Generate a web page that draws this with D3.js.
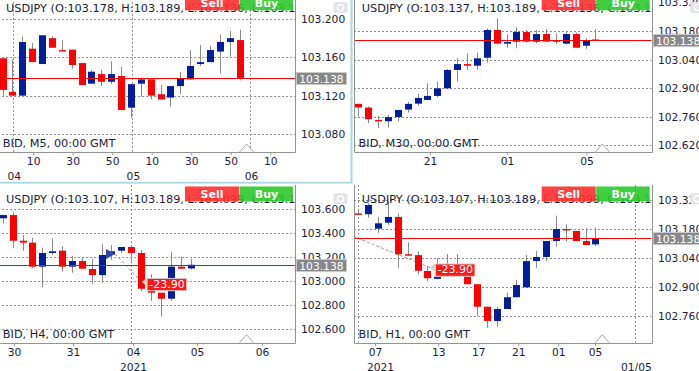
<!DOCTYPE html>
<html>
<head>
<meta charset="utf-8">
<script src="https://cdn.jsdelivr.net/npm/d3@7"></script>
<style>
  body { margin: 0; background: #fff; overflow: hidden; }
  svg { display: block; font-family: "DejaVu Sans", Verdana, sans-serif; }
</style>
</head>
<body>
<svg id="chart" width="699" height="371"></svg>
<script>
// --- DATA ---

// Candles as [open, high, low, close]
const m5Candles = [
  [103.159, 103.159, 103.120, 103.126], [103.124, 103.158, 103.120, 103.120],
  [103.120, 103.1815, 103.120, 103.176], [103.169, 103.175, 103.155, 103.155],
  [103.153, 103.183, 103.153, 103.183], [103.180, 103.182, 103.170, 103.170],
  [103.1675, 103.178, 103.1665, 103.1665], [103.168, 103.168, 103.148, 103.152],
  [103.154, 103.154, 103.131, 103.131], [103.1325, 103.147, 103.1325, 103.145],
  [103.1425, 103.147, 103.130, 103.1345], [103.1345, 103.156, 103.132, 103.1425],
  [103.1405, 103.150, 103.105, 103.105], [103.1075, 103.132, 103.097, 103.132],
  [103.1325, 103.139, 103.119, 103.137], [103.137, 103.137, 103.116, 103.120],
  [103.1215, 103.131, 103.116, 103.116], [103.118, 103.130, 103.1085, 103.130],
  [103.130, 103.145, 103.1215, 103.138], [103.137, 103.1675, 103.137, 103.151],
  [103.153, 103.173, 103.151, 103.155], [103.155, 103.172, 103.155, 103.1676],
  [103.166, 103.184, 103.143, 103.176], [103.176, 103.1875, 103.1607, 103.180],
  [103.178, 103.189, 103.136, 103.138]
];
const m30Candles = [
  [102.823, 102.823, 102.760, 102.805], [102.805, 102.810, 102.728, 102.748],
  [102.744, 102.764, 102.704, 102.738], [102.738, 102.769, 102.707, 102.758],
  [102.758, 102.793, 102.736, 102.793], [102.795, 102.834, 102.780, 102.823],
  [102.824, 102.872, 102.813, 102.852], [102.842, 102.924, 102.842, 102.862],
  [102.862, 102.932, 102.855, 102.899], [102.899, 102.994, 102.895, 102.989],
  [102.989, 103.046, 102.932, 103.018], [103.018, 103.071, 102.989, 103.010],
  [103.010, 103.074, 102.992, 103.046], [103.049, 103.193, 103.025, 103.185],
  [103.185, 103.242, 103.118, 103.118], [103.118, 103.164, 103.098, 103.126],
  [103.128, 103.198, 103.095, 103.175], [103.175, 103.185, 103.123, 103.128],
  [103.128, 103.185, 103.120, 103.165], [103.165, 103.189, 103.128, 103.128],
  [103.134, 103.169, 103.117, 103.128], [103.118, 103.177, 103.115, 103.165],
  [103.165, 103.172, 103.098, 103.098], [103.108, 103.144, 103.093, 103.133],
  [103.137, 103.189, 103.136, 103.138]
];
const h4Candles = [
  [103.525, 103.552, 103.483, 103.552], [103.552, 103.575, 103.275, 103.338],
  [103.338, 103.386, 103.255, 103.322], [103.322, 103.363, 103.108, 103.122],
  [103.122, 103.280, 102.950, 103.236], [103.236, 103.358, 103.219, 103.250],
  [103.255, 103.294, 103.080, 103.122], [103.122, 103.211, 103.072, 103.169],
  [103.169, 103.197, 103.105, 103.105], [103.103, 103.186, 102.978, 103.052],
  [103.052, 103.311, 102.989, 103.219], [103.225, 103.303, 103.178, 103.250],
  [103.255, 103.286, 103.238, 103.286], [103.286, 103.290, 103.150, 103.236],
  [103.236, 103.261, 102.919, 102.938], [102.938, 103.058, 102.838, 102.905],
  [102.905, 102.905, 102.705, 102.855], [102.855, 103.244, 102.838, 103.122],
  [103.122, 103.203, 103.105, 103.105], [103.107, 103.189, 103.099, 103.138]
];
const h1Candles = [
  [103.257, 103.278, 103.251, 103.251], [103.253, 103.306, 103.236, 103.298],
  [103.183, 103.240, 103.161, 103.209], [103.212, 103.317, 103.201, 103.240],
  [103.240, 103.257, 102.994, 103.059], [103.059, 103.117, 103.052, 103.052],
  [103.055, 103.072, 102.962, 102.979], [102.978, 103.000, 102.930, 102.943],
  [102.940, 103.040, 102.938, 102.950], [102.955, 103.060, 102.950, 102.968],
  [102.968, 103.060, 102.955, 102.960], [102.958, 102.983, 102.914, 102.914],
  [102.914, 102.914, 102.761, 102.805], [102.805, 102.805, 102.703, 102.736],
  [102.736, 102.805, 102.708, 102.794], [102.794, 102.873, 102.794, 102.851],
  [102.851, 102.934, 102.851, 102.910], [102.899, 103.056, 102.899, 103.026],
  [103.026, 103.075, 102.994, 103.046], [103.046, 103.123, 103.028, 103.123],
  [103.123, 103.246, 103.096, 103.181], [103.181, 103.204, 103.120, 103.175],
  [103.172, 103.172, 103.123, 103.123], [103.123, 103.185, 103.104, 103.104],
  [103.107, 103.189, 103.099, 103.138]
];

// Price axis ticks
const m5PriceTicks = [103.200, 103.160, 103.120, 103.080];
const m30PriceTicks = [103.320, 103.180, 103.040, 102.900, 102.760, 102.620];
const h4PriceTicks = [103.600, 103.400, 103.200, 103.000, 102.800, 102.600];
const h1PriceTicks = [103.320, 103.180, 103.040, 102.900, 102.760];

// Time axis ticks (bar index) and labels
const m5TimeTicks = [3.1, 7.1, 11.1, 15.1, 19.1, 23.1, 27.1];
const m5TimeLabels = ["10", "30", "50", "10", "30", "50", "10"];
const m5DayTicks = [1.15, 13.2, 25.15];
const m5DayLabels = ["04", "05", "06"];
const m30TimeTicks = [7.25, 15.05, 23.1];
const m30TimeLabels = ["21", "01", "05"];
const h4TimeTicks = [1.13, 7.1, 13.18, 19.66, 26.23];
const h4TimeLabels = ["30", "31", "04", "05", "06"];
const h4YearTicks = [13.18];
const h4YearLabels = ["2021"];
const h1TimeTicks = [1.69, 8.1, 12.15, 16.19, 20.24, 23.96];
const h1TimeLabels = ["07", "13", "17", "21", "01", "05"];
const h1YearTicks = [2.2, 28.1];
const h1YearLabels = ["2021", "01/05"];

// Vertical grid (bar index)
const m5VGrid = [1.03, 13.08, 25];
const h4VGrid = [13];
const h1VGrid = [0, 28];

// Quote headers
const m5Ohlc = "USDJPY (O:103.178, H:103.189, L:103.136, C:103.138)";
const m30Ohlc = "USDJPY (O:103.137, H:103.189, L:103.136, C:103.138)";
const h4Ohlc = "USDJPY (O:103.107, H:103.189, L:103.099, C:103.138)";
const h1Ohlc = "USDJPY (O:103.107, H:103.189, L:103.099, C:103.138)";
const bidPrice = 103.138;

// Closed trade: entry/exit bar index and price, result
const h4Trade = { entry: [10.9, 103.228], exit: [14.05, 102.995], result: "-23.90" };
const h1Trade = { entry: [-5.2, 103.228], exit: [7.25, 102.995], result: "-23.90" };

// --- STYLE ---
const BULL = "#001d9a";
const BEAR = "#ff0000";
const WICK = "#8a8a8a";
const GRID = "#8c8c8c";
const TEXT = "#1c1c3c";
const STEP = 9.88;
const BODY_W = 7;

const panels = [
  { id: "m5", candles: m5Candles, ohlc: m5Ohlc, tf: "M5", prices: m5PriceTicks,
    row1: [m5TimeTicks, m5TimeLabels], row2: [m5DayTicks, m5DayLabels], vgrid: m5VGrid, trade: null,
    left: -1.8, right: 295, top: -6.2, bottom: 152, x0: 2.5, yDom: [103.200, 103.080], yRng: [19, 134] },
  { id: "m30", candles: m30Candles, ohlc: m30Ohlc, tf: "M30", prices: m30PriceTicks,
    row1: [m30TimeTicks, m30TimeLabels], row2: [[], []], vgrid: [], trade: null,
    left: 354, right: 651.7, top: -6.2, bottom: 152, x0: 358.3, yDom: [103.180, 102.620], yRng: [31, 145.3] },
  { id: "h4", candles: h4Candles, ohlc: h4Ohlc, tf: "H4", prices: h4PriceTicks,
    row1: [h4TimeTicks, h4TimeLabels], row2: [h4YearTicks, h4YearLabels], vgrid: h4VGrid, trade: h4Trade,
    left: -1.8, right: 295, top: 185, bottom: 342.7, x0: 2.8, yDom: [103.600, 102.600], yRng: [209.3, 329.3] },
  { id: "h1", candles: h1Candles, ohlc: h1Ohlc, tf: "H1", prices: h1PriceTicks,
    row1: [h1TimeTicks, h1TimeLabels], row2: [h1YearTicks, h1YearLabels], vgrid: h1VGrid, trade: h1Trade,
    left: 354, right: 651.7, top: 185, bottom: 342.7, x0: 358.3, yDom: [103.180, 102.760], yRng: [229.3, 316] }
];

const svg = d3.select("#chart");
const defs = svg.append("defs");
const crisp = v => Math.round(v) + 0.5;

// Active panel frame (light blue)
svg.append("rect").attr("x", 350.5).attr("y", 0).attr("width", 2).attr("height", 183.5).attr("fill", "#a9d6e8");
svg.append("rect").attr("x", 0).attr("y", 181.8).attr("width", 352).attr("height", 1.8).attr("fill", "#a9d6e8");

panels.forEach(p => {
  const x = d3.scaleLinear().domain([0, 1]).range([p.x0, p.x0 + STEP]);
  const y = d3.scaleLinear().domain(p.yDom).range(p.yRng);
  const g = svg.append("g");

  defs.append("clipPath").attr("id", "clip-" + p.id)
    .append("rect").attr("x", p.left).attr("y", p.top)
    .attr("width", p.right - p.left).attr("height", p.bottom - p.top);
  const plot = g.append("g").attr("clip-path", `url(#clip-${p.id})`);

  // Grid
  plot.selectAll(".hgrid").data(p.prices.filter(v => y(v) > p.top + 10)).join("line")
    .attr("x1", p.left).attr("x2", p.right)
    .attr("y1", v => crisp(y(v))).attr("y2", v => crisp(y(v)))
    .attr("stroke", GRID).attr("stroke-dasharray", "2,2");
  plot.selectAll(".vgrid").data(p.vgrid).join("line")
    .attr("x1", v => crisp(x(v))).attr("x2", v => crisp(x(v)))
    .attr("y1", p.top).attr("y2", p.bottom)
    .attr("stroke", GRID).attr("stroke-dasharray", "2,2");

  // Trade connector line
  if (p.trade) {
    plot.append("line")
      .attr("x1", x(p.trade.entry[0]) + 4.5).attr("y1", y(p.trade.entry[1]))
      .attr("x2", x(p.trade.exit[0])).attr("y2", y(p.trade.exit[1]))
      .attr("stroke", "#9a9a9a").attr("stroke-dasharray", "3,2");
  }

  // Candles
  plot.selectAll(".wick").data(p.candles).join("line")
    .attr("x1", (d, i) => crisp(x(i))).attr("x2", (d, i) => crisp(x(i)))
    .attr("y1", d => y(d[1])).attr("y2", d => y(d[2]))
    .attr("stroke", WICK);
  plot.selectAll(".body").data(p.candles).join("rect")
    .attr("x", (d, i) => crisp(x(i)) - BODY_W / 2)
    .attr("width", BODY_W)
    .attr("y", d => y(Math.max(d[0], d[3])))
    .attr("height", d => Math.max(1.4, Math.abs(y(d[0]) - y(d[3]))))
    .attr("fill", d => d[3] >= d[0] ? BULL : BEAR);

  // Bid line
  const by = crisp(y(bidPrice));
  plot.append("line")
    .attr("x1", p.left).attr("x2", p.right)
    .attr("y1", by).attr("y2", by)
    .attr("stroke", "#ff0000").attr("stroke-width", 1);

  // Trade markers
  if (p.trade) {
    const ex = x(p.trade.entry[0]), ey = y(p.trade.entry[1]);
    plot.append("path")
      .attr("d", `M${ex + 4.5},${ey} L${ex - 4.5},${ey - 5} L${ex - 4.5},${ey + 5} Z`)
      .attr("fill", "#2a46aa");
    const qx = x(p.trade.exit[0]), qy = y(p.trade.exit[1]);
    plot.append("path")
      .attr("d", `M${qx},${qy} L${qx + 5},${qy - 4} L${qx + 5},${qy + 4} Z`)
      .attr("fill", "#d0d0d0");
    plot.append("rect")
      .attr("x", qx + 5.5).attr("y", qy - 3.5).attr("width", 39.5).attr("height", 12.3)
      .attr("fill", "#ff1a1a").attr("stroke", "#cfcfcf");
    plot.append("text")
      .attr("x", qx + 7.6).attr("y", qy + 6)
      .attr("font-size", 11).attr("fill", "#fff")
      .text(p.trade.result);
  }

  // Header text and trade buttons
  plot.append("text")
    .attr("x", p.left + 7.8).attr("y", p.top + 18)
    .attr("font-size", 11.3).attr("fill", TEXT)
    .text(p.ohlc);
  const btnY = p.top + 1.5;
  plot.append("rect").attr("x", p.right - 110).attr("y", btnY).attr("width", 54).attr("height", 15)
    .attr("fill", "#ff2d2d").attr("opacity", 0.9);
  plot.append("rect").attr("x", p.right - 55.5).attr("y", btnY).attr("width", 53.5).attr("height", 15)
    .attr("fill", "#2cc92c").attr("opacity", 0.9);
  plot.append("text").attr("x", p.right - 83).attr("y", btnY + 11.8)
    .attr("text-anchor", "middle").attr("font-size", 11).attr("font-weight", "bold")
    .attr("fill", "#fff").text("Sell");
  plot.append("text").attr("x", p.right - 28.5).attr("y", btnY + 11.8)
    .attr("text-anchor", "middle").attr("font-size", 11).attr("font-weight", "bold")
    .attr("fill", "#fff").text("Buy");

  plot.append("text")
    .attr("x", p.left + 4.6).attr("y", p.bottom - 4.8)
    .attr("font-size", 11.3).attr("fill", TEXT)
    .text(`BID, ${p.tf}, 00:00 GMT`);

  // Scroll marker triangle
  const tx = p.left + 248.3;
  g.append("path")
    .attr("d", `M${tx - 7},${p.bottom} L${tx},${p.bottom - 8} L${tx + 7},${p.bottom}`)
    .attr("fill", "#fff").attr("stroke", "#a8a8a8");

  // Plot border
  g.append("path")
    .attr("d", `M${crisp(p.left)},${p.top} V${crisp(p.bottom)} H${crisp(p.right)} V${p.top}`)
    .attr("fill", "none").attr("stroke", "#939393");

  // Price axis
  g.append("g").attr("transform", `translate(${crisp(p.right)},0)`)
    .call(d3.axisRight(y).tickValues(p.prices).tickSize(0).tickPadding(5.5).tickFormat(d3.format(".3f")))
    .call(a => a.select(".domain").remove())
    .attr("font-family", null).attr("font-size", 10.7)
    .selectAll("text").attr("fill", TEXT);

  // Time axis rows
  g.append("g").attr("transform", `translate(0,${crisp(p.bottom)})`)
    .call(d3.axisBottom(x).tickValues(p.row1[0]).tickFormat((d, i) => p.row1[1][i]).tickSize(2.5).tickPadding(2.9))
    .call(a => a.select(".domain").remove())
    .attr("font-family", null).attr("font-size", 10.7)
    .call(a => a.selectAll("line").attr("stroke", "#939393"))
    .selectAll("text").attr("fill", TEXT);
  g.append("g").attr("transform", `translate(0,${crisp(p.bottom)})`)
    .call(d3.axisBottom(x).tickValues(p.row2[0]).tickFormat((d, i) => p.row2[1][i]).tickSize(0).tickPadding(20.4))
    .call(a => a.select(".domain").remove())
    .attr("font-family", null).attr("font-size", 10.7)
    .selectAll("text").attr("fill", TEXT);

  // Bid price tag
  g.append("rect")
    .attr("x", p.right + 1.5).attr("y", by - 6).attr("width", 50).attr("height", 12)
    .attr("fill", "#888").attr("stroke", "#c8c8c8");
  g.append("text")
    .attr("x", p.right + 4.3).attr("y", by + 4)
    .attr("font-size", 10.7).attr("fill", "#fff")
    .text(d3.format(".3f")(bidPrice));

  // Small settings icon
  g.append("rect")
    .attr("x", p.right + 38.5).attr("y", p.top + 8.2).attr("width", 14).attr("height", 11).attr("rx", 2)
    .attr("fill", "#e4e4e4");
  g.append("circle")
    .attr("cx", p.right + 45.5).attr("cy", p.top + 13.7).attr("r", 3)
    .attr("fill", "none").attr("stroke", "#fff").attr("stroke-width", 1.5);
});
</script>
</body>
</html>
